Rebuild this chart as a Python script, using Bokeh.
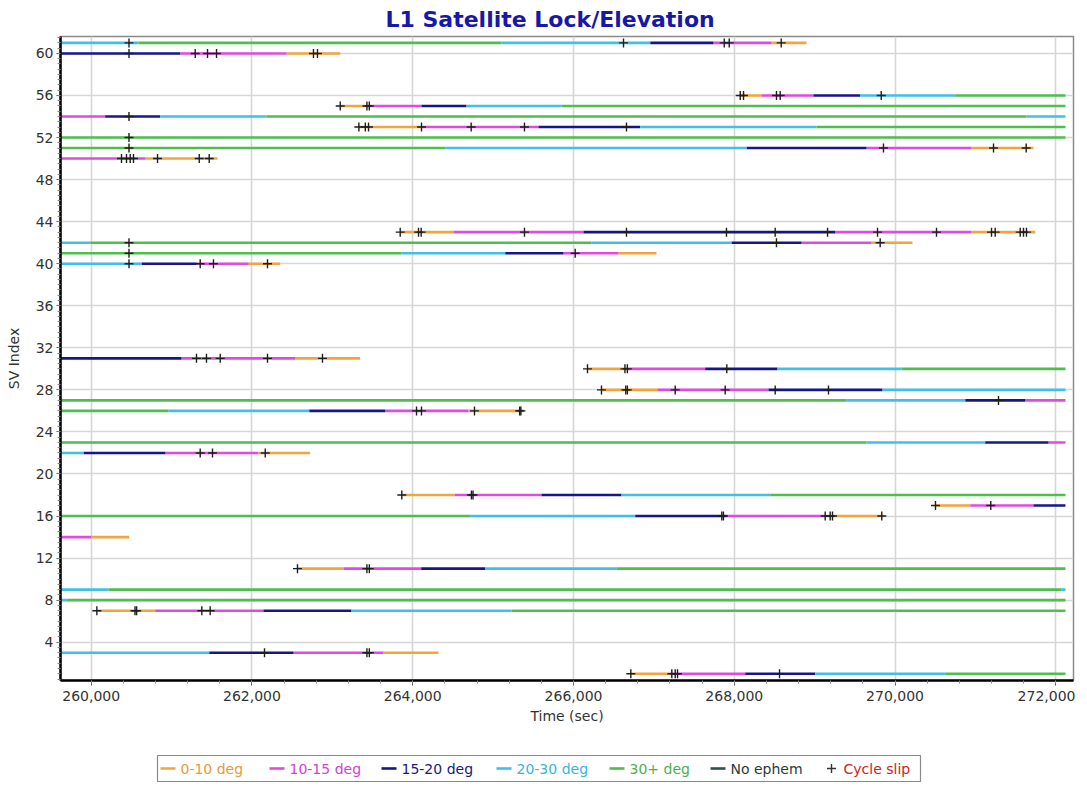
import numpy as np
from bokeh.plotting import figure
from bokeh.models import Range1d, FixedTicker, ColumnDataSource, NumeralTickFormatter
from bokeh.layouts import column
from bokeh.embed import file_html
from bokeh.resources import INLINE
from bokeh.core.properties import value

# ---------------- data: lock segments per elevation band ----------------
# band 0-10 deg
B0_SV    = [61, 60, 56, 55, 53, 51, 50, 43, 43, 42, 41, 40, 31, 30, 28, 26, 22, 18, 17, 16, 14, 11, 7, 3, 1]
B0_START = [268463, 262430, 268074, 263098, 263325, 270951, 260675, 263844, 270951, 269707, 266560, 261957,
            262541, 266174, 266348, 264694, 262081, 263864, 270503, 269131, 260000, 262566, 260070, 263636, 266713]
B0_END   = [268898, 263098, 268339, 263450, 264109, 271722, 261571, 264507, 271743, 270217, 267032, 262351,
            263346, 266659, 267045, 265378, 262724, 264520, 270935, 269856, 260473, 263139, 260796, 264320, 267203]

# band 10-15 deg
B1_SV    = [61, 60, 56, 55, 54, 53, 51, 50, 43, 43, 42, 41, 40, 31, 30, 28, 27, 26, 23, 22, 18, 17, 16, 14, 11, 7, 3, 1]
B1_START = [267741, 261107, 268339, 263450, 259620, 264109, 269645, 259620, 264507, 269255, 268836, 265875,
            261310, 261123, 266659, 267045, 271619, 263657, 271909, 260924, 264520, 270935, 267903, 259620,
            263139, 260796, 262517, 267203]
B1_END   = [268463, 262430, 268985, 264109, 260174, 265564, 270951, 260675, 266124, 270951, 269707, 266560,
            261957, 262541, 267638, 268426, 272120, 264694, 272120, 262081, 265602, 271722, 269131, 260000,
            264105, 262143, 263636, 268136]

# band 15-20 deg
B2_SV    = [61, 60, 56, 55, 54, 53, 51, 43, 42, 41, 40, 31, 30, 28, 27, 26, 23, 22, 18, 17, 16, 11, 7, 3, 1]
B2_START = [266954, 259620, 268985, 264109, 260174, 265564, 268152, 266124, 267965, 265150, 260626, 259620,
            267638, 268426, 270873, 262712, 271121, 259904, 265602, 271722, 266767, 264105, 262143, 261468, 268136]
B2_END   = [267741, 261107, 269566, 264669, 260858, 266830, 269645, 269255, 268836, 265875, 261310, 261123,
            268538, 269844, 271619, 263657, 271909, 260924, 266597, 272120, 267903, 264901, 263238, 262517, 269007]

# band 20-30 deg
B3_SV    = [61, 61, 56, 55, 54, 54, 53, 51, 42, 42, 41, 40, 30, 28, 27, 26, 23, 22, 18, 16, 11, 9, 9, 8, 7, 3, 1]
B3_START = [259620, 265104, 269566, 264669, 260858, 271635, 266830, 264404, 259620, 266224, 263860, 259620,
            268538, 269844, 269396, 260962, 269645, 259620, 266597, 264715, 264901, 259620, 272070, 259620,
            263238, 259620, 269007]
B3_END   = [260588, 266954, 270748, 265851, 262181, 272120, 269023, 268152, 259988, 267965, 265150, 260626,
            270080, 272120, 270873, 262712, 271121, 259904, 268447, 266767, 266539, 260215, 272120, 259693,
            265229, 261468, 270624]

# band 30+ deg
B4_SV    = [61, 56, 55, 54, 53, 52, 51, 42, 41, 30, 27, 26, 23, 18, 16, 11, 9, 8, 7, 1]
B4_START = [260588, 270748, 265851, 262181, 269023, 259620, 259620, 259988, 259620, 270080, 259620, 259620,
            259620, 268447, 259620, 266539, 260215, 259693, 265229, 270624]
B4_END   = [265104, 272120, 272120, 271635, 272120, 272120, 264404, 266224, 263860, 272120, 269396, 260962,
            269645, 272120, 264715, 272120, 272070, 272120, 272120, 272120]

# cycle slips
SLIP_SV = ([61] * 5 + [60] * 6 + [56] * 5 + [55] * 3 + [54] + [53] * 7 + [52] + [51] * 4 + [50] * 7 +
           [43] * 15 + [42] * 3 + [41] * 2 + [40] * 4 + [31] * 5 + [30] * 4 + [28] * 7 + [27] + [26] * 5 +
           [22] * 3 + [18] * 3 + [17] * 2 + [16] * 6 + [11] * 3 + [7] * 5 + [3] * 3 + [1] * 5)
SLIP_T = [260470, 266622, 267875, 267937, 268584,
          260470, 261294, 261447, 261559, 262765, 262815,
          268074, 268115, 268525, 268571, 269828,
          263098, 263430, 263460,
          260470,
          263330, 263410, 263450, 264109, 264727, 265390, 266659,
          260470,
          260470, 269856, 271225, 271631,
          260377, 260439, 260485, 260526, 260825, 261344, 261468,
          263844, 264072, 264105, 265390, 266659, 267903, 268509, 269160, 269782, 270516, 271200, 271246,
          271557, 271598, 271635,
          260470, 268525, 269815,
          260470, 266021,
          260470, 261356, 261521, 262193,
          261310, 261434, 261605, 262193, 262877,
          266174, 266640, 266670, 267907,
          266348, 266650, 266670, 267265, 267887, 268509, 269172,
          271287,
          264047, 264109, 264768, 265330, 265345,
          261356, 261509, 262165,
          263864, 264730, 264750,
          270503, 271191,
          267845, 267865, 269131, 269193, 269222, 269835,
          262566, 263430, 263460,
          260070, 260545, 260565, 261376, 261480,
          262156, 263430, 263460,
          266713, 267223, 267265, 267294, 268563]

BAND_LABELS = ["0-10 deg", "10-15 deg", "15-20 deg", "20-30 deg", "30+ deg"]
BAND_COLORS = ["#F2A53C", "#E04AE0", "#16168C", "#3FC0E8", "#4DBF4D"]
LEGEND_LABELS = BAND_LABELS + ["No ephem", "Cycle slip"]
LEGEND_TEXT_COLORS = ["#E89A38", "#D440D4", "#1A1A80", "#3AB4DC", "#4CB04C", "#2F3A3A", "#CC2222"]
NO_EPHEM_COLOR = "#2F4F4F"

X_TICKS = [260000, 262000, 264000, 266000, 268000, 270000, 272000]
Y_TICKS = list(range(4, 61, 4))

FONT = "DejaVu Sans"

# ---------------- main figure ----------------
p = figure(width=1075, height=738, output_backend="svg", toolbar_location=None,
           x_range=Range1d(259618, 272220), y_range=Range1d(0.36, 61.61),
           min_border_left=60, min_border_right=2, min_border_top=10, min_border_bottom=58,
           title="L1 Satellite Lock/Elevation")
p.background_fill_color = "white"
p.border_fill_color = "white"
p.outline_line_color = "#8a8a8a"
p.outline_line_width = 1.5

p.title.text_font = FONT
p.title.text_font_size = "22px"
p.title.text_font_style = "bold"
p.title.text_color = "#1818A8"
p.title.align = "left"
p.title.offset = 325
p.title.standoff = 9

p.xaxis.ticker = FixedTicker(ticks=X_TICKS, minor_ticks=list(range(259600, 272400, 400)))
p.yaxis.ticker = FixedTicker(ticks=Y_TICKS, minor_ticks=list(np.arange(0.5, 61.6, 0.5)))
p.xaxis.formatter = NumeralTickFormatter(format="0,0")
p.xaxis.axis_label = "Time (sec)"
p.yaxis.axis_label = "SV Index"
for ax in (p.xaxis, p.yaxis):
    ax.axis_line_color = "black"
    ax.axis_line_width = 2.5
    ax.major_tick_line_color = "#555555"
    ax.minor_tick_line_color = "#888888"
    ax.major_tick_out = 5
    ax.major_tick_in = 0
    ax.minor_tick_out = 3
    ax.minor_tick_in = 0
    ax.major_label_text_font = FONT
    ax.major_label_text_font_size = "14px"
    ax.major_label_text_color = "#333333"
    ax.axis_label_text_font = FONT
    ax.axis_label_text_font_size = "14px"
    ax.axis_label_text_font_style = "normal"
    ax.axis_label_text_color = "#333333"
p.yaxis.major_tick_out = 4
p.yaxis.major_label_standoff = 3
p.xaxis.axis_label_standoff = 4
p.yaxis.axis_label_standoff = 11

p.grid.grid_line_color = "#D6D6D6"
p.grid.grid_line_width = 1.6

bands = [(B0_SV, B0_START, B0_END), (B1_SV, B1_START, B1_END), (B2_SV, B2_START, B2_END),
         (B3_SV, B3_START, B3_END), (B4_SV, B4_START, B4_END)]
for (sv, st, en), col in zip(bands, BAND_COLORS):
    src = ColumnDataSource(dict(y=sv, x0=st, x1=en))
    p.segment(x0="x0", y0="y", x1="x1", y1="y", source=src, line_color=col, line_width=2.6)

p.scatter(x=SLIP_T, y=SLIP_SV, marker="cross", size=9, line_color="#1E1E1E", line_width=1.4)

# ---------------- legend strip (its frame is aligned with the main frame) ----------------
lg = figure(width=1075, height=44, output_backend="svg", toolbar_location=None,
            x_range=Range1d(62, 1075), y_range=Range1d(0, 44), min_border=0,
            x_axis_type=None, y_axis_type=None)
lg.grid.visible = False
lg.outline_line_color = None
lg.background_fill_color = "white"
lg.border_fill_color = "white"

lg.quad(left=[159], right=[922], bottom=[1], top=[27], fill_color="white", line_color="#8a8a8a", line_width=1.2)
item_x = [162, 271, 383, 498, 611, 712]
line_colors = BAND_COLORS + [NO_EPHEM_COLOR]
lg.segment(x0=item_x, x1=[x + 15 for x in item_x], y0=[14] * 6, y1=[14] * 6,
           line_color=line_colors, line_width=2.6)
lg.scatter(x=[833], y=[14], marker="cross", size=9, line_color="#333333", line_width=1.4)
text_x = [x + 20 for x in item_x] + [845]
lg.text(x=text_x, y=[14] * 7, text=LEGEND_LABELS, text_color=LEGEND_TEXT_COLORS,
        text_font=value(FONT), text_font_size="14px", text_baseline="middle", text_align="left")

layout = column(p, lg, spacing=0)
open("out.html", "w").write(file_html(layout, INLINE))
